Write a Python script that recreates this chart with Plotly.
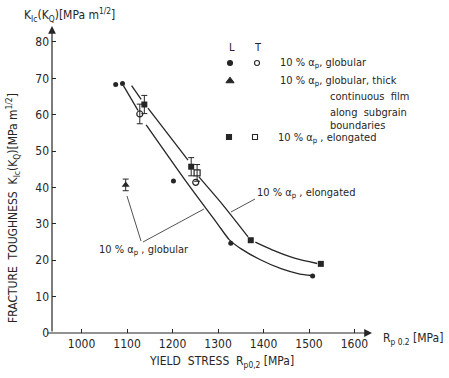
import plotly.graph_objects as go

# ---------------- data ----------------
# L orientation, 10 % alpha_p globular (filled circles)
l_glob_x = [1075, 1090, 1202, 1328, 1508]
l_glob_y = [68.3, 68.6, 41.8, 24.7, 15.7]
# T orientation, globular (open circles)
t_glob_x = [1128, 1251]
t_glob_y = [60.2, 41.4]
t_glob_err = [2.7, 0.0]
# L orientation, globular with thick continuous film (triangle)
l_film_x = [1097]
l_film_y = [40.7]
l_film_err = [1.6]
# L orientation, elongated (filled squares)
l_elong_x = [1138, 1241, 1372, 1526]
l_elong_y = [62.8, 45.7, 25.5, 19.0]
l_elong_err = [2.5, 2.5, 0.0, 0.0]
# T orientation, elongated (open squares)
t_elong_x = [1254]
t_elong_y = [44.0]
t_elong_err = [2.3]

# hand-drawn trend curves (None = gap in the drawn line)
lower_x = [1092, 1124, None, 1142, 1230, 1300, 1325, 1350, 1392, 1440, 1480, 1505]
lower_y = [68.0, 61.2, None, 57.2, 41.6, 29.8, 25.6, 23.2, 20.2, 17.6, 16.2, 15.8]
upper_x = [1110, 1131, None, 1146, 1234, None, 1258, 1310, 1345, 1366, None, 1382, 1430, 1470, 1518]
upper_y = [68.0, 64.2, None, 61.8, 47.5, None, 42.9, 35.3, 29.8, 26.4, None, 25.0, 22.3, 20.5, 19.1]

x_ticks = [1000, 1100, 1200, 1300, 1400, 1500, 1600]
y_ticks = [0, 10, 20, 30, 40, 50, 60, 70, 80]

# ---------------- layout geometry ----------------
W, H = 449, 378
X0PX, X1PX, XMIN, XMAX = 52, 372, 935, 1638.5
Y0PX, Y1PX, YMIN, YMAX = 333, 27, 0, 84.1

def px(x):   # pixel -> paper x
    return (x - X0PX) / (X1PX - X0PX)

def py(y):   # pixel -> paper y
    return (Y0PX - y) / (Y0PX - Y1PX)

INK = "#262626"
FONT = "DejaVu Sans Condensed"

fig = go.Figure()

line_style = dict(color=INK, width=1.3, shape="spline", smoothing=0.6)
fig.add_trace(go.Scatter(x=lower_x, y=lower_y, mode="lines", line=line_style,
                         connectgaps=False, hoverinfo="skip"))
fig.add_trace(go.Scatter(x=upper_x, y=upper_y, mode="lines", line=line_style,
                         connectgaps=False, hoverinfo="skip"))

def err_trace(xs, ys, es, marker):
    ex, ey, ee, nx, ny = [], [], [], [], []
    for x, y, e in zip(xs, ys, es):
        if e > 0:
            ex.append(x); ey.append(y); ee.append(e)
        else:
            nx.append(x); ny.append(y)
    if ex:
        fig.add_trace(go.Scatter(x=ex, y=ey, mode="markers", marker=marker,
                                 error_y=dict(type="data", array=ee, visible=True,
                                              color=INK, thickness=1, width=3)))
    if nx:
        fig.add_trace(go.Scatter(x=nx, y=ny, mode="markers", marker=marker))

err_trace(l_elong_x, l_elong_y, l_elong_err,
          dict(symbol="square", size=6, color=INK))
err_trace(t_glob_x, t_glob_y, t_glob_err,
          dict(symbol="circle-open", size=6, color=INK, line=dict(width=1.2, color=INK)))
err_trace(t_elong_x, t_elong_y, t_elong_err,
          dict(symbol="square-open", size=6, color=INK, line=dict(width=1.2, color=INK)))
err_trace(l_film_x, l_film_y, l_film_err,
          dict(symbol="triangle-up", size=7, color=INK))
fig.add_trace(go.Scatter(x=l_glob_x, y=l_glob_y, mode="markers",
                         marker=dict(symbol="circle", size=5, color=INK)))

# ---------------- legend (custom L / T columns) ----------------
def xd(p):
    return XMIN + (p - X0PX) / (X1PX - X0PX) * (XMAX - XMIN)

def yd(p):
    return YMIN + (Y0PX - p) / (Y0PX - Y1PX) * (YMAX - YMIN)

leg_sym = [
    (230, 63, "circle", 5),
    (257, 63, "circle-open", 5),
    (230, 81, "triangle-up", 7),
    (229, 137, "square", 5),
    (255, 137, "square-open", 5),
]
for lx, ly, sym, sz in leg_sym:
    fig.add_trace(go.Scatter(x=[xd(lx)], y=[yd(ly)], mode="markers", cliponaxis=False,
                             marker=dict(symbol=sym, size=sz, color=INK,
                                         line=dict(width=1.1, color=INK))))

annots = []
def text(xp, yp, s, size=11, xanchor="left", angle=0):
    annots.append(dict(x=px(xp), y=py(yp), xref="paper", yref="paper", text=s,
                       showarrow=False, xanchor=xanchor, yanchor="middle",
                       textangle=angle, font=dict(family=FONT, size=size, color=INK)))

ap = "α<sub>p</sub>"
text(232, 47, "L", 11, "center")
text(258, 47, "T", 11, "center")
text(278, 63, f"10 % {ap}, globular")
text(278, 81, f"10 % {ap}, globular, thick")
text(328, 97, "continuous  film")
text(328, 112, "along  subgrain")
text(328, 126, "boundaries")
text(276, 138, f"10 % {ap} , elongated")

# in-plot labels
text(255, 193, f"10 % {ap} , elongated")
text(97, 250, f"10 % {ap} , globular")

# axis titles
text(221, 362, "YIELD  STRESS  R<sub>p0,2</sub> [MPa]", 12, "center")
text(13, 208, "FRACTURE  TOUGHNESS  K<sub>Ic</sub>(K<sub>Q</sub>)[MPa m<sup>1/2</sup>]", 12, "center", -90)
text(22, 15, "K<sub>Ic</sub>(K<sub>Q</sub>)[MPa m<sup>1/2</sup>]", 12, "left")
text(381, 339, "R<sub>p 0.2</sub> [MPa]", 12, "left")

# axis arrows
annots.append(dict(x=px(372), y=py(333), xref="paper", yref="paper", text="",
                   showarrow=True, ax=-(372 - 46), ay=0, arrowhead=2, arrowsize=1.3,
                   arrowwidth=1.2, arrowcolor=INK, standoff=0))
annots.append(dict(x=px(52), y=py(26), xref="paper", yref="paper", text="",
                   showarrow=True, ax=0, ay=(333 - 26), arrowhead=2, arrowsize=1.3,
                   arrowwidth=1.2, arrowcolor=INK, standoff=0))

shapes = [
    # leader lines
    dict(type="line", xref="paper", yref="paper", x0=px(255), y0=py(199), x1=px(231), y1=py(212),
         line=dict(color=INK, width=0.8)),
    dict(type="line", xref="paper", yref="paper", x0=px(143), y0=py(242), x1=px(204), y1=py(209),
         line=dict(color=INK, width=0.8)),
    dict(type="line", xref="paper", yref="paper", x0=px(127), y0=py(196), x1=px(141), y1=py(241),
         line=dict(color=INK, width=0.8)),
]

axis_font = dict(family=FONT, size=12, color=INK)
fig.update_layout(
    width=W, height=H,
    margin=dict(l=X0PX, r=W - X1PX, t=Y1PX, b=H - Y0PX, pad=0),
    paper_bgcolor="white", plot_bgcolor="white",
    showlegend=False,
    annotations=annots, shapes=shapes,
    xaxis=dict(range=[XMIN, XMAX], tickvals=x_ticks, ticks="inside", ticklen=4,
               tickcolor=INK, tickwidth=1, showgrid=False, zeroline=False,
               showline=False, tickfont=axis_font, ticklabelstandoff=2),
    yaxis=dict(range=[YMIN, YMAX], tickvals=y_ticks, ticks="inside", ticklen=4,
               tickcolor=INK, tickwidth=1, showgrid=False, zeroline=False,
               showline=False, tickfont=axis_font, ticklabelstandoff=2),
)

fig.write_html("out.html")
